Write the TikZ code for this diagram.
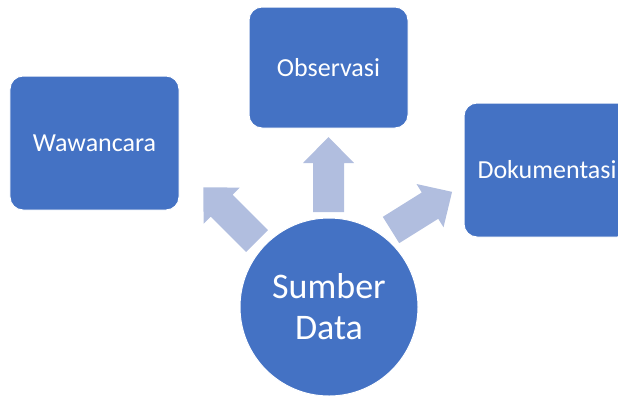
\documentclass[tikz,border=0pt]{standalone}
\usepackage{fontspec}
\setmainfont{Carlito}
\definecolor{boxblue}{RGB}{68,114,196}
\definecolor{arrowblue}{RGB}{177,190,223}
\tikzset{
  box/.style={fill=boxblue, draw=white, line width=1bp, rounded corners=13bp,
    text=white, align=center, inner sep=0pt, font=\fontsize{26bp}{31bp}\selectfont},
  hub/.style={circle, fill=boxblue, draw=white, line width=1bp, text=white,
    align=center, inner sep=0pt, minimum size=178bp,
    font=\fontsize{36bp}{41bp}\selectfont},
  arrowfill/.style={fill=arrowblue},
  pics/blockarrow/.style={code={
    \fill[arrowfill] (0,-15.5) -- ({#1-26},-15.5) -- ({#1-26},-25.5) -- (#1,0)
      -- ({#1-26},25.5) -- ({#1-26},15.5) -- (0,15.5) -- cycle;}}
}
\begin{document}
\begin{tikzpicture}[x=1bp,y=-1bp]
\useasboundingbox (0,0) rectangle (618,395);
\clip (0,0) rectangle (618,395);
\node[box, minimum width=169bp, minimum height=134bp] (waw) at (94.5,143) {Wawancara};
\node[box, minimum width=159bp, minimum height=121bp] (obs) at (328.5,67.5) {Observasi};
\node[box, minimum width=166bp, minimum height=134bp] (dok) at (547,170) {Dokumentasi};
\node[hub] (hub) at (329,307) {Sumber\\Data};
\pic[rotate=90] at (328.5,212) {blockarrow=75};
\pic[rotate=135] at (257,241) {blockarrow=76};
\pic[rotate=32] at (391,230) {blockarrow=72};
\end{tikzpicture}
\end{document}
